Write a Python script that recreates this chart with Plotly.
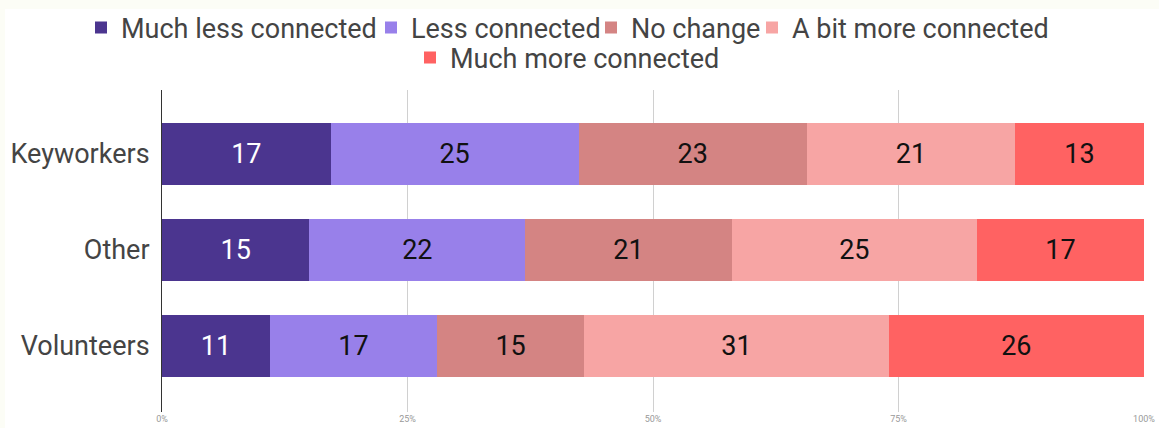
import plotly.graph_objects as go

categories = ["Keyworkers", "Other", "Volunteers"]
series_names = ["Much less connected", "Less connected", "No change",
                "A bit more connected", "Much more connected"]
much_less = [17, 15, 11]
less = [25, 22, 17]
no_change = [23, 21, 15]
bit_more = [21, 25, 31]
much_more = [13, 17, 26]
series_values = [much_less, less, no_change, bit_more, much_more]
colors = ["#4b358f", "#9880ea", "#d48483", "#f7a5a4", "#ff6262"]
text_colors = ["#ffffff", "#111111", "#111111", "#111111", "#111111"]
tick_vals = [0, 25, 50, 75, 100]
tick_text = ["0%", "25%", "50%", "75%", "100%"]

L, R, T, B = 162, 15, 90, 16
W, H = 1159, 428
pw, ph = W - L - R, H - T - B

# legend entry placement (text start px, text centre y px)
legend_text_x = [122, 412, 632, 793, 451]
legend_text_y = [28, 28, 28, 28, 58]

fig = go.Figure()
legend_layouts = {}
for i, (name, vals, c, tc) in enumerate(zip(series_names, series_values,
                                             colors, text_colors)):
    lg = "legend" if i == 0 else f"legend{i + 1}"
    fig.add_trace(go.Bar(
        y=categories, x=vals, name=name, orientation="h",
        marker=dict(color=c, line=dict(width=0)),
        text=[str(v) for v in vals], textposition="inside",
        insidetextanchor="middle",
        textfont=dict(color=tc, size=27, family="Roboto"),
        hoverinfo="skip", legend=lg, showlegend=True,
    ))
    legend_layouts[lg] = dict(
        orientation="h", xref="container", yref="container",
        x=(legend_text_x[i] - 41) / W, xanchor="left",
        y=1 - legend_text_y[i] / H, yanchor="middle",
        font=dict(size=27, color="#444444", family="Roboto"),
        itemwidth=30, bgcolor="rgba(0,0,0,0)", borderwidth=0)

fig.update_layout(
    width=W, height=H, showlegend=True,
    barmode="stack", barnorm="percent", bargap=0.35,
    paper_bgcolor="#fcfdf6", plot_bgcolor="#ffffff",
    margin=dict(l=L, r=R, t=T, b=B, autoexpand=False),
    font=dict(family="Roboto", color="#444444"),
    uniformtext=dict(mode="show", minsize=27),
    shapes=[dict(type="rect", xref="paper", yref="paper", layer="below",
                 x0=(5 - L) / pw, x1=(W + 5 - L) / pw,
                 y0=-(B + 5) / ph, y1=(H - B - 9) / ph,
                 fillcolor="#ffffff", line=dict(width=0))],
    xaxis=dict(range=[0, 100], tickvals=tick_vals, ticktext=tick_text,
               showgrid=True, gridcolor="#d0d0d0", gridwidth=1,
               zeroline=False, showline=False, automargin=False,
               tickfont=dict(size=9, color="#999999"), ticks="",
               fixedrange=True),
    yaxis=dict(autorange=False, range=[2.69, -0.667], showline=True,
               linecolor="#333333", linewidth=1, ticks="", automargin=False,
               tickfont=dict(size=27, color="#444444"), ticklabelstandoff=6),
    **legend_layouts,
)
fig.write_html("out.html", config={"displayModeBar": False},
               post_script="document.body.style.margin='0px';")
